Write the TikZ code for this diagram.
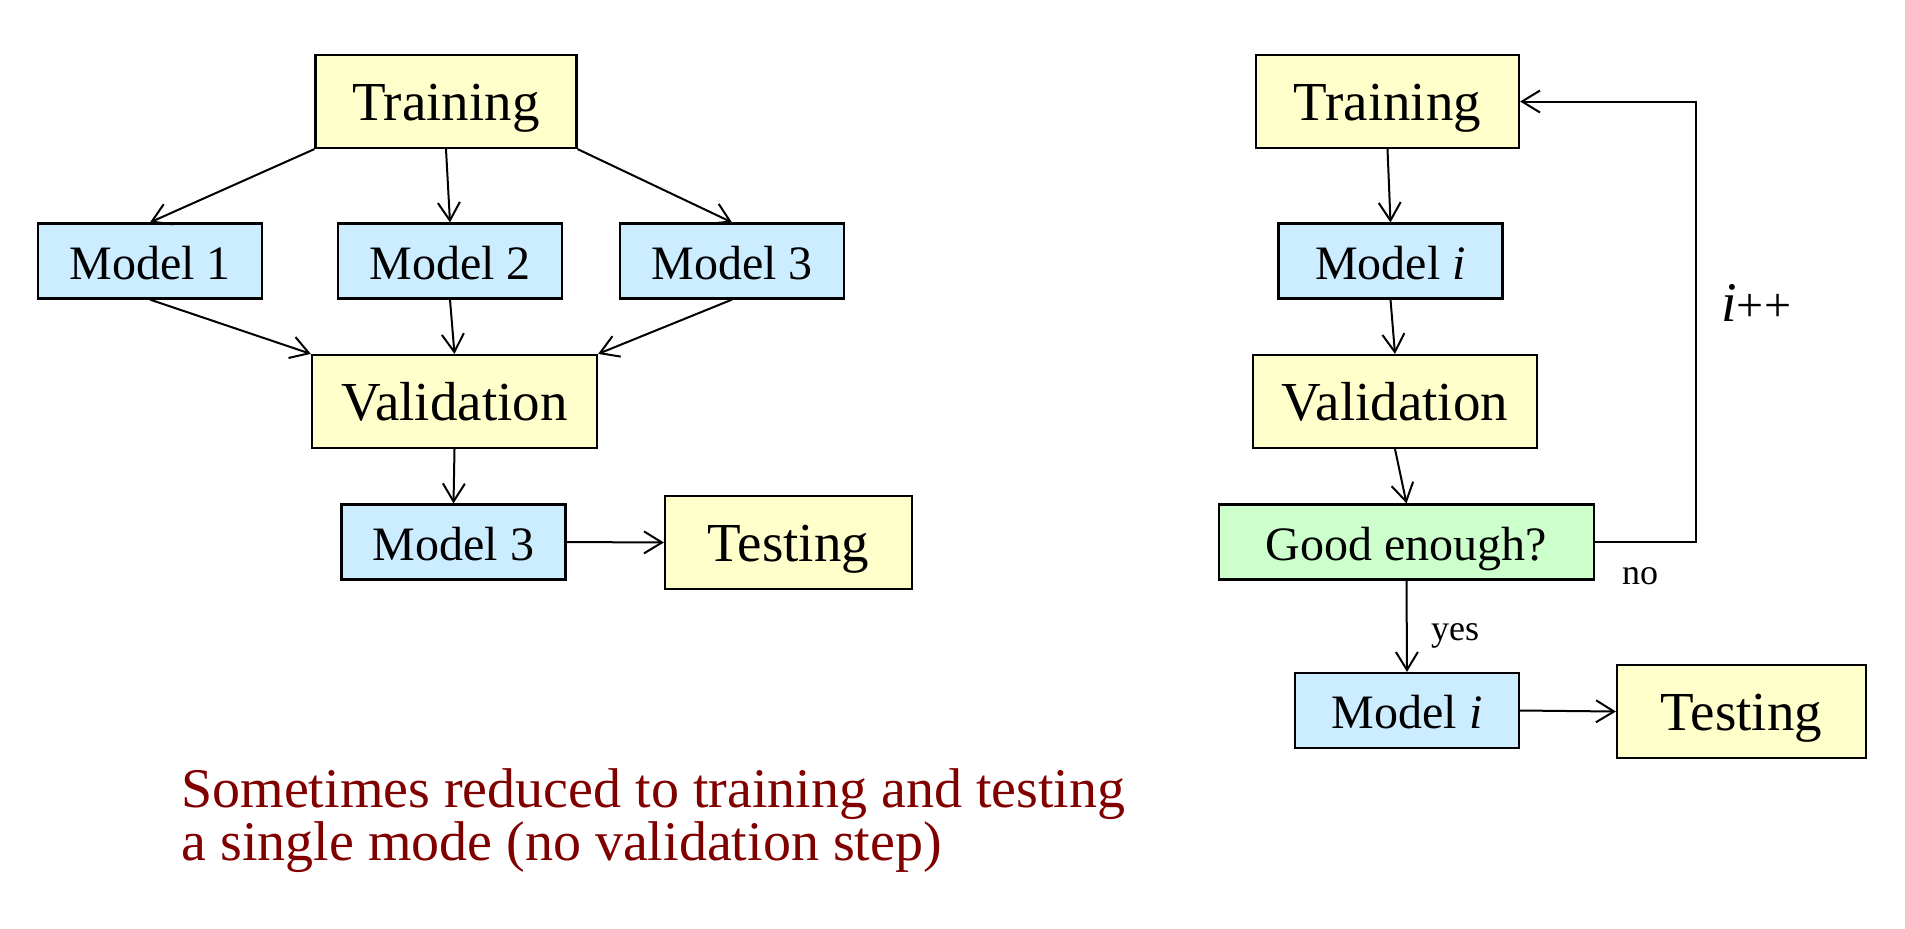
\documentclass[tikz,border=0pt]{standalone}
\usepackage{fontspec}
\setmainfont{Liberation Serif}
\usetikzlibrary{arrows.meta}
\definecolor{boxyellow}{HTML}{FFFFCC}
\definecolor{boxblue}{HTML}{CCECFF}
\definecolor{boxgreen}{HTML}{CCFFCC}
\definecolor{notered}{HTML}{800000}
\begin{document}
\begin{tikzpicture}[x=0.5pt,y=-0.5pt,
  box/.style={draw=black, line width=1.1pt, inner sep=0pt, anchor=center},
  bigbox/.style={box, fill=boxyellow, minimum height=46.5pt, text height=28pt, text depth=9pt, font=\fontsize{27.5}{32}\selectfont},
  modbox/.style={box, fill=boxblue, minimum height=37.5pt, minimum width=112pt, text height=25pt, text depth=7pt, font=\fontsize{24}{28}\selectfont},
  decbox/.style={box, fill=boxgreen, minimum height=37.5pt, minimum width=187.5pt, text height=25pt, text depth=7pt, font=\fontsize{24}{28}\selectfont},
  conn/.style={line width=1pt, -{Straight Barb[length=9pt,width=11pt,line width=1pt]}},
  lbl/.style={inner sep=0pt, anchor=base, font=\fontsize{18}{21}\selectfont},
  note/.style={inner sep=0pt, anchor=base west, text=notered, font=\fontsize{28}{33}\selectfont}]
\useasboundingbox (0,0) rectangle (1905,928);
% left diagram
\node[bigbox, minimum width=130.5pt] (T1) at (446,101.5) {Training};
\node[modbox] (M1) at (150,261) {Model 1};
\node[modbox] (M2) at (450,261) {Model 2};
\node[modbox] (M3) at (732,261) {Model 3};
\node[bigbox, minimum width=142.5pt] (V1) at (454.5,401.5) {Validation};
\node[modbox] (M3b) at (453.5,542) {Model 3};
\node[bigbox, minimum width=123.5pt] (Te1) at (788.5,542.5) {Testing};
\draw[conn] (T1.south west) -- (M1.north);
\draw[conn] (T1.south) -- (M2.north);
\draw[conn] (T1.south east) -- (M3.north);
\draw[conn] (M1.south) -- (V1.north west);
\draw[conn] (M2.south) -- (V1.north);
\draw[conn] (M3.south) -- (V1.north east);
\draw[conn] (V1.south) -- (M3b.north);
\draw[conn] (M3b.east) -- (Te1.west);
% right diagram
\node[bigbox, minimum width=131.5pt] (T2) at (1387.5,101.5) {Training};
\node[modbox] (Mi) at (1390.5,261) {Model \textit{i}};
\node[bigbox, minimum width=142pt] (V2) at (1395,401.5) {Validation};
\node[decbox] (G) at (1406.5,542) {Good enough?};
\node[modbox] (Mi2) at (1407,710.5) {Model \textit{i}};
\node[bigbox, minimum width=124.5pt] (Te2) at (1741.5,711.5) {Testing};
\draw[conn] (T2.south) -- (Mi.north);
\draw[conn] (Mi.south) -- (V2.north);
\draw[conn] (V2.south) -- (G.north);
\draw[conn] (G.south) -- (Mi2.north);
\draw[conn] (Mi2.east) -- (Te2.west);
\coordinate (loop) at (1696,542);
\draw[conn] (G.east) -- (loop) |- (T2.east);
\node[lbl] (no) at (1640,584) {no};
\node[lbl] (yes) at (1455,640) {yes};
\node[inner sep=0pt, anchor=base west] (inc) at (1721,321) {\fontsize{28}{32}\selectfont\textit{i}\fontsize{24}{28}\selectfont++};
% note
\node[note] (n1) at (181,807) {Sometimes reduced to training and testing};
\node[note] (n2) at (181,860) {a single mode (no validation step)};
\end{tikzpicture}
\end{document}
